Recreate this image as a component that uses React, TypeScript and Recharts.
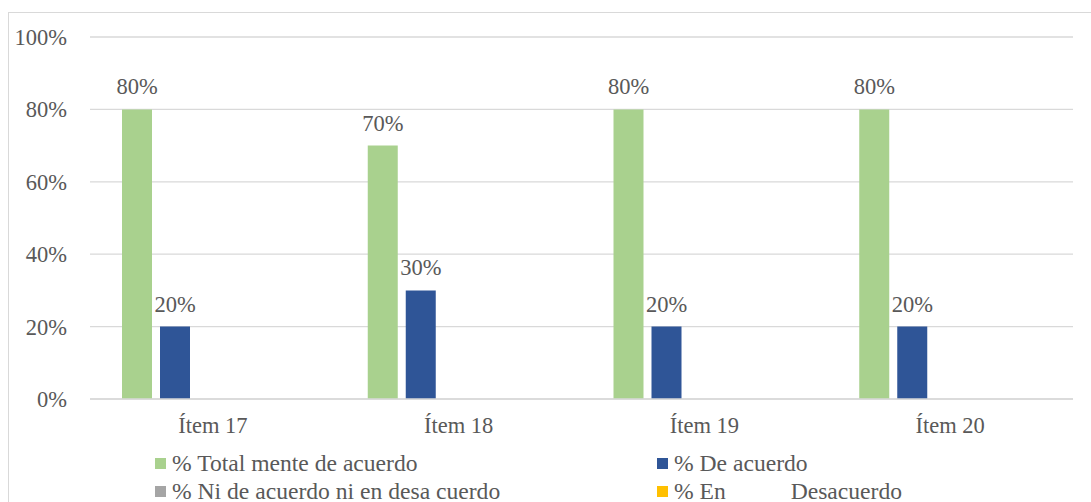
import React from "react";
import {
  BarChart,
  Bar,
  XAxis,
  YAxis,
  CartesianGrid,
  Legend,
  LabelList,
} from "recharts";

const categories = ["Ítem 17", "Ítem 18", "Ítem 19", "Ítem 20"];
const totalmenteDeAcuerdo = [80, 70, 80, 80];
const deAcuerdo = [20, 30, 20, 20];
const niDeAcuerdo = [0, 0, 0, 0];
const enDesacuerdo = [0, 0, 0, 0];
// fifth series is present in the original (takes a slot in each group) but has no legend entry
const totalDesacuerdo = [0, 0, 0, 0];
const yTicks = [0, 20, 40, 60, 80, 100];

const seriesNames = [
  "% Total mente de acuerdo",
  "% De acuerdo",
  "% Ni de acuerdo ni en desa cuerdo",
  "% En           Desacuerdo",
];
const seriesColors = ["#A9D18E", "#2F5597", "#A5A5A5", "#FFC000", "#5B9BD5"];

const data = categories.map((name, i) => ({
  name,
  s1: totalmenteDeAcuerdo[i],
  s2: deAcuerdo[i],
  s3: niDeAcuerdo[i],
  s4: enDesacuerdo[i],
  s5: totalDesacuerdo[i],
}));

const font = "'Liberation Serif', 'Times New Roman', serif";
const textColor = "#595959";
const gridColor = "#D9D9D9";

const tickStyle = { fontSize: 22.5, fill: textColor, fontFamily: font };

const pct = (v: any) => (v ? `${v}%` : "");

function LegendBox() {
  // two columns, two rows like the Excel legend
  const cols = [155, 657];
  const rows = [0, 28];
  return (
    <div style={{ position: "relative", width: 1091, height: 56 }}>
      {seriesNames.map((label, i) => (
        <div
          key={i}
          style={{
            position: "absolute",
            left: cols[i % 2],
            top: rows[Math.floor(i / 2)],
            display: "flex",
            alignItems: "center",
            height: 24,
            fontFamily: font,
            fontSize: 23.6,
            color: textColor,
            whiteSpace: "pre",
          }}
        >
          <span
            style={{
              width: 11,
              height: 11,
              background: seriesColors[i],
              display: "inline-block",
              marginRight: 6,
            }}
          />
          <span>{label}</span>
        </div>
      ))}
    </div>
  );
}

export default function App() {
  return (
    <div
      style={{
        position: "fixed",
        left: 0,
        top: 0,
        width: 1091,
        height: 502,
        overflow: "hidden",
        background: "#fff",
      }}
    >
      <div
        style={{
          position: "absolute",
          left: 8,
          top: 12,
          width: 1100,
          height: 520,
          borderLeft: `1px solid ${gridColor}`,
          borderTop: `1px solid ${gridColor}`,
        }}
      />
      <div style={{ position: "absolute", left: 0, top: 0 }}>
        <BarChart
          width={1091}
          height={502}
          data={data}
          margin={{ top: 37, right: 18, bottom: 73, left: 0 }}
          barSize={30}
          barGap={8}
        >
          <CartesianGrid vertical={false} stroke={gridColor} strokeWidth={1.3} />
          <XAxis
            dataKey="name"
            tick={tickStyle}
            tickLine={false}
            tickSize={0}
            tickMargin={18}
            height={30}
            axisLine={{ stroke: gridColor, strokeWidth: 1.3 }}
          />
          <YAxis
            domain={[0, 100]}
            ticks={yTicks}
            tickFormatter={(v) => `${v}%`}
            tick={tickStyle}
            tickLine={false}
            axisLine={false}
            tickSize={0}
            tickMargin={23}
            width={90}
          />
          <Legend
            layout="horizontal"
            verticalAlign="middle"
            align="center"
            wrapperStyle={{ top: 451, left: 0, width: 1091 }}
            content={() => <LegendBox />}
          />
          {["s1", "s2", "s3", "s4", "s5"].map((key, i) => (
            <Bar
              key={key}
              dataKey={key}
              name={seriesNames[i] ?? ""}
              fill={seriesColors[i]}
              isAnimationActive={false}
            >
              {i < 2 && (
                <LabelList
                  dataKey={key}
                  position="top"
                  offset={15}
                  formatter={pct}
                  style={{ ...tickStyle }}
                />
              )}
            </Bar>
          ))}
        </BarChart>
      </div>
    </div>
  );
}
